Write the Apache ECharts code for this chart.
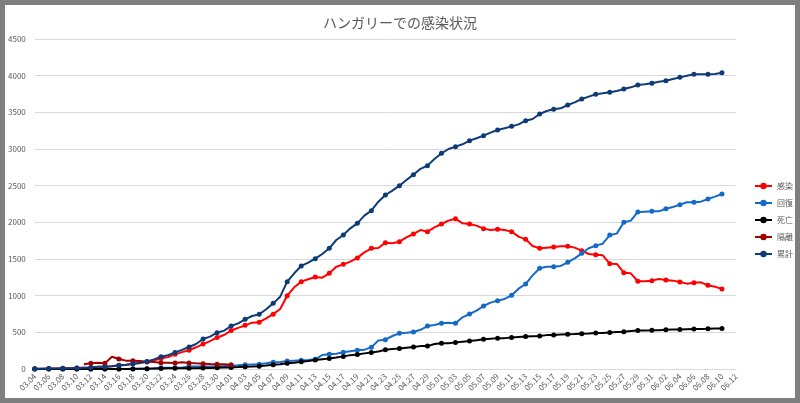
<!DOCTYPE html>
<html><head><meta charset="utf-8">
<script src="https://cdn.jsdelivr.net/npm/echarts@6/dist/echarts.min.js"></script>
<style>
html,body{margin:0;padding:0;background:#7f7f7f;width:800px;height:403px;overflow:hidden;}
#c{position:absolute;left:5px;top:5px;width:790px;height:393px;background:#fff;}
</style></head><body><div id="c"></div>
<script>
const dates = ["03.04","03.05","03.06","03.07","03.08","03.09","03.10","03.11","03.12","03.13","03.14","03.15","03.16","03.17","03.18","03.19","03.20","03.21","03.22","03.23","03.24","03.25","03.26","03.27","03.28","03.29","03.30","03.31",
"04.01","04.02","04.03","04.04","04.05","04.06","04.07","04.08","04.09","04.10","04.11","04.12","04.13","04.14","04.15","04.16","04.17","04.18","04.19","04.20","04.21","04.22","04.23","04.24","04.25","04.26","04.27","04.28","04.29","04.30",
"05.01","05.02","05.03","05.04","05.05","05.06","05.07","05.08","05.09","05.10","05.11","05.12","05.13","05.14","05.15","05.16","05.17","05.18","05.19","05.20","05.21","05.22","05.23","05.24","05.25","05.26","05.27","05.28","05.29","05.30","05.31",
"06.01","06.02","06.03","06.04","06.05","06.06","06.07","06.08","06.09","06.10","06.11","06.12"];

const seriesNames = ["感染","回復","死亡","隔離","累計"];

const infected = [2,4,7,7,9,9,13,16,19,29,30,37,48,56,70,80,97,118,144,162,200,230,256,296,
340,380,430,464,525,560,595,632,638,691,748,818,1000,1114,1191,1223,1255,1245,1305,1395,1427,1465,1515,1590,1646,1650,1723,1714,
1736,1795,1841,1895,1873,1932,1977,2023,2050,1986,1977,1955,1914,1895,1905,1895,1873,1805,1768,1677,
1646,1655,1664,1673,1673,1655,1614,1568,1559,1550,1436,1432,1314,1305,1196,1196,1205,1227,1214,1205,
1186,1164,1177,1182,1141,1123,1091];

const recovered = [0,0,0,0,0,0,0,0,0,1,1,1,1,1,2,2,2,7,16,16,16,21,34,34,34,34,37,40,46,50,58,62,
66,77,91,95,109,114,118,123,132,191,200,209,227,241,255,264,295,390,400,450,
486,495,505,535,586,600,625,630,623,705,750,795,859,905,932,955,1005,1095,1159,1277,
1373,1395,1395,1405,1455,1509,1577,1646,1682,1709,1827,1846,2000,2023,2141,2146,2150,2150,2186,2209,
2241,2273,2273,2282,2318,2350,2386];

const deaths = [0,0,0,0,0,0,0,0,0,0,1,1,1,1,1,3,4,6,7,9,10,10,10,
11,13,15,16,20,21,26,32,34,38,47,58,66,77,85,99,109,122,134,142,
156,172,189,199,213,225,239,262,272,280,291,300,312,312,340,351,351,363,373,383,
392,405,413,421,421,430,436,442,448,451,462,462,470,473,476,482,485,491,491,499,
505,509,517,524,526,527,530,534,538,539,542,545,546,548,551,551];

const isolated = [null,null,null,null,null,null,null,64,77,86,77,168,136,114,114,109,100,95,86,86,82,91,82,77,73,68,64,64,59];

const total = [2,4,7,7,9,9,13,16,19,30,32,39,50,58,73,85,103,131,167,187,226,261,300,
341,409,441,495,523,586,623,677,723,745,814,895,986,1191,1305,1405,1450,1505,1568,1646,1759,1827,1918,1986,2091,2159,2282,2373,2432,
2500,2577,2650,2730,2773,2864,2941,3000,3032,3064,3114,3146,3182,3223,3259,3282,3309,3336,3386,3409,
3477,3518,3541,3555,3600,3636,3682,3714,3746,3759,3773,3791,3818,3841,3873,3882,3896,3918,3932,3955,
3977,4000,4018,4018,4018,4023,4041];

const colors = ["#ff0000","#1569c7","#000000","#a00000","#0d3b78"];
const dataSets = [infected, recovered, deaths, isolated, total];

const chart = echarts.init(document.getElementById('c'));
const font = "'Noto Sans CJK JP','Noto Sans',sans-serif";
chart.setOption({
  animation: false,
  textStyle: {fontFamily: font},
  title: {text: 'ハンガリーでの感染状況', left: 'center', top: 6,
    textStyle: {fontSize: 14, fontWeight: 'normal', color: '#595959', fontFamily: font}},
  grid: {left: 27, right: 59, top: 34, bottom: 29},
  xAxis: {type: 'category', data: dates, boundaryGap: false,
    axisLine: {lineStyle: {color: '#d9d9d9'}}, axisTick: {show: false},
    axisLabel: {interval: 1, rotate: 45, fontSize: 8, color: '#595959', margin: 6}},
  yAxis: {type: 'value', min: 0, max: 4500, interval: 500,
    axisLine: {show: false}, axisTick: {show: false},
    splitLine: {lineStyle: {color: '#d9d9d9'}},
    axisLabel: {fontSize: 8, color: '#595959', margin: 9, formatter: v => String(v)}},
  legend: {orient: 'vertical', left: 749, top: 177, padding: 0, itemWidth: 17, itemHeight: 8, itemGap: 9,
    textStyle: {fontSize: 8, color: '#595959'}, data: seriesNames},
  series: seriesNames.map((n, i) => ({
    name: n, type: 'line', data: dataSets[i], symbol: 'circle', symbolSize: 5, showSymbol: true,
    lineStyle: {width: 2, color: colors[i]}, itemStyle: {color: colors[i]}, z: 2 + i
  }))
});
</script></body></html>
